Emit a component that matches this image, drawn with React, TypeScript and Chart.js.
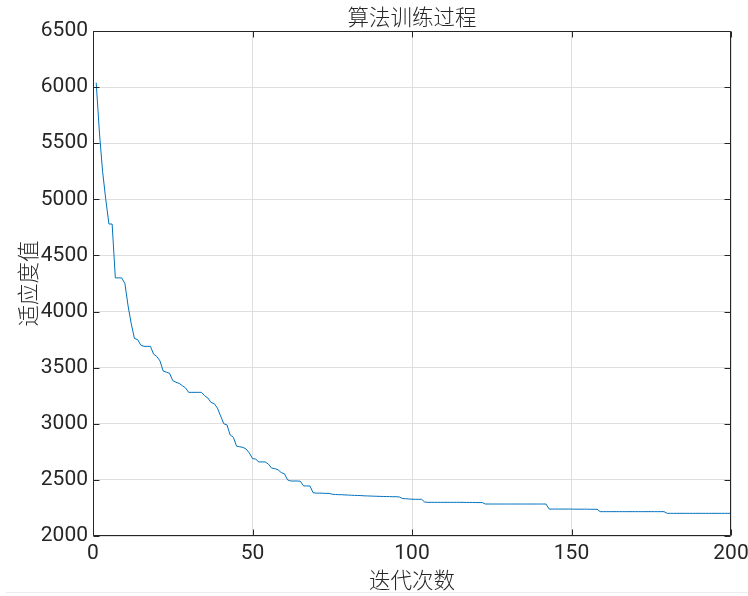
import React, { useEffect, useRef } from 'react';
import { Chart, registerables } from 'chart.js';

Chart.register(...registerables);

const TITLE = '算法训练过程';
const X_LABEL = '迭代次数';
const Y_LABEL = '适应度值';

const X_MIN = 0;
const X_MAX = 200;
const X_STEP = 50;
const Y_MIN = 2000;
const Y_MAX = 6500;
const Y_STEP = 500;

// fitness value per iteration (iteration 1..200)
const FITNESS: number[] = [
  6040, 5600, 5250, 5000, 4780, 4780, 4300, 4300, 4300, 4250,
  4050, 3890, 3760, 3750, 3700, 3690, 3690, 3690, 3620, 3600,
  3560, 3470, 3460, 3450, 3385, 3370, 3360, 3340, 3320, 3280,
  3280, 3280, 3280, 3280, 3250, 3230, 3190, 3180, 3140, 3070,
  3000, 2990, 2900, 2880, 2800, 2795, 2790, 2775, 2740, 2690,
  2685, 2660, 2660, 2660, 2640, 2605, 2600, 2590, 2565, 2555,
  2500, 2490, 2490, 2490, 2488, 2446, 2446, 2446, 2386, 2382,
  2382, 2381, 2380, 2380, 2372, 2370, 2368, 2368, 2366, 2365,
  2363, 2362, 2361, 2360, 2358, 2357, 2356, 2355, 2354, 2353,
  2352, 2352, 2351, 2350, 2350, 2348, 2334, 2332, 2330, 2328,
  2327, 2327, 2327, 2302, 2300, 2300, 2300, 2300, 2300, 2300,
  2300, 2300, 2300, 2300, 2300, 2300, 2299, 2299, 2299, 2298,
  2298, 2298, 2285, 2285, 2285, 2285, 2285, 2285, 2285, 2285,
  2285, 2285, 2285, 2285, 2285, 2285, 2285, 2285, 2285, 2285,
  2285, 2285, 2240, 2240, 2240, 2240, 2240, 2240, 2240, 2240,
  2239, 2239, 2239, 2239, 2239, 2238, 2238, 2238, 2217, 2217,
  2217, 2217, 2217, 2217, 2217, 2217, 2217, 2217, 2217, 2217,
  2217, 2217, 2217, 2217, 2217, 2217, 2217, 2217, 2217, 2202,
  2202, 2202, 2202, 2202, 2202, 2202, 2202, 2202, 2202, 2202,
  2202, 2202, 2202, 2202, 2202, 2202, 2202, 2202, 2202, 2202,
];
const ITERATIONS: number[] = FITNESS.map((_, i) => i + 1);

const TEXT = '#262626';
const GRID = '#dfdfdf';
const LINE = '#0072BD';
const NUM_FONT = 'Roboto, "Liberation Sans", sans-serif';
const CJK_FONT = '"Noto Sans CJK SC", "Noto Sans", sans-serif';

const framePlugin = {
  id: 'matlabFrame',
  afterDatasetsDraw(chart: any) {
    const { ctx, chartArea, scales } = chart;
    const { left, right, top, bottom } = chartArea;
    const xs = scales.x;
    const ys = scales.y;
    const L = Math.round(left) + 0.5;
    const R = Math.round(right) - 0.5;
    const T = Math.round(top) + 0.5;
    const B = Math.round(bottom) - 0.5;
    const tl = 6;
    ctx.save();
    ctx.strokeStyle = TEXT;
    ctx.lineWidth = 1;
    ctx.beginPath();
    ctx.rect(L, T, R - L, B - T);
    xs.ticks.forEach((t: any) => {
      const px = Math.round(xs.getPixelForValue(t.value)) + 0.5;
      ctx.moveTo(px, B);
      ctx.lineTo(px, B - tl);
      ctx.moveTo(px, T);
      ctx.lineTo(px, T + tl);
    });
    ys.ticks.forEach((t: any) => {
      const py = Math.round(ys.getPixelForValue(t.value)) + 0.5;
      ctx.moveTo(L, py);
      ctx.lineTo(L + tl, py);
      ctx.moveTo(R, py);
      ctx.lineTo(R - tl, py);
    });
    ctx.stroke();
    // faint figure edge line near the bottom
    ctx.strokeStyle = '#ececec';
    ctx.beginPath();
    ctx.moveTo(6, 592.5);
    ctx.lineTo(748, 592.5);
    ctx.stroke();
    ctx.restore();
  },
};

export default function App() {
  const ref = useRef<HTMLCanvasElement | null>(null);

  useEffect(() => {
    const canvas = ref.current;
    if (!canvas) return;
    const chart = new Chart(canvas, {
      type: 'line',
      data: {
        datasets: [
          {
            data: ITERATIONS.map((x, i) => ({ x, y: FITNESS[i] })),
            borderColor: LINE,
            backgroundColor: LINE,
            borderWidth: 1,
            pointRadius: 0,
            tension: 0,
            fill: false,
          },
        ],
      },
      options: {
        animation: false,
        responsive: false,
        maintainAspectRatio: false,
        events: [],
        layout: { padding: { left: 0, right: 17, top: 0, bottom: 0 } },
        plugins: {
          legend: { display: false },
          tooltip: { enabled: false },
          title: {
            display: true,
            fullSize: false,
            text: TITLE,
            color: TEXT,
            font: { family: CJK_FONT, size: 21.5, weight: '300' as any, lineHeight: 1.2 },
            padding: { top: 4, bottom: 1.2 },
          },
        },
        scales: {
          x: {
            type: 'linear',
            min: X_MIN,
            max: X_MAX,
            afterFit(scale: any) {
              scale.height = 60;
              scale.paddingLeft = 0;
              scale.paddingRight = 0;
            },
            ticks: {
              stepSize: X_STEP,
              color: TEXT,
              padding: 5,
              maxRotation: 0,
              font: { family: NUM_FONT, size: 21 },
              callback: (v: any) => String(v),
            },
            grid: { color: GRID, drawTicks: false, lineWidth: 1 },
            border: { display: false },
            title: {
              display: true,
              text: X_LABEL,
              color: TEXT,
              font: { family: CJK_FONT, size: 21.5, weight: '300' as any, lineHeight: 1.2 },
              padding: { top: 0, bottom: 3.5 },
            },
          },
          y: {
            type: 'linear',
            min: Y_MIN,
            max: Y_MAX,
            afterFit(scale: any) {
              scale.width = 93;
              scale.paddingTop = 0;
              scale.paddingBottom = 0;
            },
            ticks: {
              stepSize: Y_STEP,
              color: TEXT,
              padding: 5,
              font: { family: NUM_FONT, size: 21 },
              callback: (v: any) => String(v),
            },
            grid: { color: GRID, drawTicks: false, lineWidth: 1 },
            border: { display: false },
            title: {
              display: true,
              text: Y_LABEL,
              color: TEXT,
              font: { family: CJK_FONT, size: 21.5, weight: '300' as any, lineHeight: 1.2 },
              padding: { top: 14.5, bottom: 0 },
            },
          },
        },
      },
      plugins: [framePlugin],
    });
    return () => chart.destroy();
  }, []);

  return (
    <div style={{ position: 'fixed', left: 0, top: 0, width: 748, height: 596, background: '#ffffff' }}>
      <canvas ref={ref} width={748} height={596} style={{ display: 'block', width: 748, height: 596 }} />
    </div>
  );
}
